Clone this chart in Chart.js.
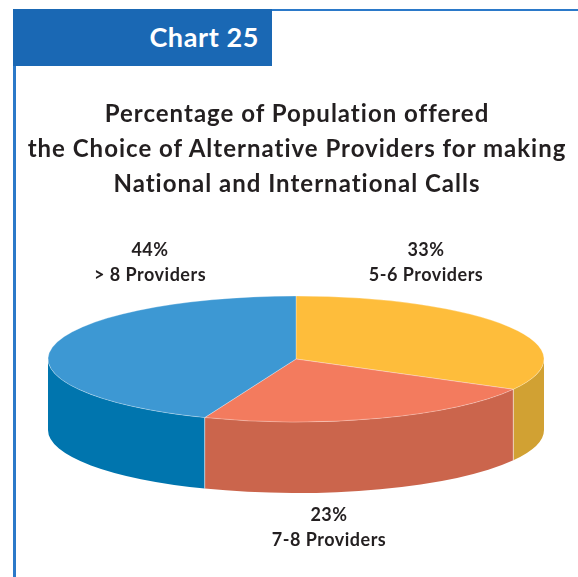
<!DOCTYPE html>
<html lang="en">
<head>
<meta charset="UTF-8">
<title>Chart 25</title>
<style>
  body { margin: 0; background: #fff; }
  #page { position: relative; width: 578px; height: 577px; overflow: hidden; font-family: "Lato", "Noto Sans", sans-serif; color: #231f20; }
  #myChart { position: absolute; left: 0; top: 0; }
  .header { position: absolute; left: 13px; top: 9px; width: 259px; height: 57px; background: #1a68b4; }
  .header span { position: absolute; right: 13px; top: 11px; color: #fff; font-size: 27px; font-weight: 700; letter-spacing: 0.6px; }
  .topline { position: absolute; left: 272px; top: 9px; width: 306px; height: 2px; background: #2b79c9; }
  .leftline { position: absolute; left: 13px; top: 66px; width: 3px; height: 511px; background: #2b79c9; }
  .title { position: absolute; left: 0; width: 594px; top: 95px; text-align: center; font-size: 24px; font-weight: 700; line-height: 35px; letter-spacing: 1px; }
  .lbl { position: absolute; width: 200px; text-align: center; font-size: 18px; font-weight: 700; line-height: 25px; letter-spacing: 0.5px; }
</style>
</head>
<body>
<div id="page">
  <canvas id="myChart" width="578" height="577"></canvas>
  <div class="header"><span>Chart 25</span></div>
  <div class="topline"></div>
  <div class="leftline"></div>
  <div class="title">Percentage of Population offered<br>the Choice of Alternative Providers for making<br>National and International Calls</div>
  <div class="lbl" id="l0" style="left:326px; top:237px;"></div>
  <div class="lbl" id="l1" style="left:229px; top:502px;"></div>
  <div class="lbl" id="l2" style="left:50px; top:237px;"></div>
</div>
<script src="https://cdn.jsdelivr.net/npm/chart.js"></script>
<script>
  // data, clockwise from 12 o'clock
  const categories = ['5-6 Providers', '7-8 Providers', '> 8 Providers'];
  const shares = [33, 23, 44];

  const topColours = ['#febd3b', '#f37b5e', '#3d98d3'];
  const sideColours = ['#d1a133', '#cb654c', '#0075ae'];

  categories.forEach((c, i) => {
    document.getElementById('l' + i).innerHTML = shares[i] + '%<br>' + c;
  });

  // where the flattened pie sits on the page
  const PIE = { cx: 296, cy: 359, rx: 248, ry: 63, depth: 71 };

  const tilt = {
    id: 'tilt',
    beforeDatasetsDraw(chart) {
      const ctx = chart.ctx;
      const arcs = chart.getDatasetMeta(0).data;
      // side walls first (front half only)
      arcs.forEach((el, i) => {
        const s = Math.max(el.startAngle, 0);
        const e = Math.min(el.endAngle, Math.PI);
        if (s >= e) return;
        ctx.beginPath();
        ctx.ellipse(PIE.cx, PIE.cy, PIE.rx, PIE.ry, 0, s, e, false);
        ctx.ellipse(PIE.cx, PIE.cy + PIE.depth, PIE.rx, PIE.ry, 0, e, s, true);
        ctx.closePath();
        ctx.fillStyle = sideColours[i];
        ctx.fill();
      });
      // light seams where slices meet on the wall
      ctx.strokeStyle = 'rgba(255,255,255,0.55)';
      ctx.lineWidth = 1;
      arcs.forEach(el => {
        const a = el.startAngle;
        if (a > 0 && a < Math.PI) {
          const x = PIE.cx + PIE.rx * Math.cos(a);
          const y = PIE.cy + PIE.ry * Math.sin(a);
          ctx.beginPath();
          ctx.moveTo(x, y);
          ctx.lineTo(x, y + PIE.depth);
          ctx.stroke();
        }
      });
      // squash the flat pie into an ellipse
      const el0 = arcs[0];
      ctx.save();
      ctx.translate(PIE.cx, PIE.cy);
      ctx.scale(PIE.rx / el0.outerRadius, PIE.ry / el0.outerRadius);
      ctx.translate(-el0.x, -el0.y);
    },
    afterDatasetsDraw(chart) {
      chart.ctx.restore();
    }
  };

  new Chart(document.getElementById('myChart'), {
    type: 'pie',
    data: {
      labels: categories,
      datasets: [{
        data: shares,
        backgroundColor: topColours,
        borderColor: 'rgba(255,255,255,0.55)',
        borderWidth: 1,
        hoverOffset: 0,
        clip: false
      }]
    },
    options: {
      responsive: false,
      animation: false,
      events: [],
      plugins: { legend: { display: false }, tooltip: { enabled: false } }
    },
    plugins: [tilt]
  });
</script>
</body>
</html>
